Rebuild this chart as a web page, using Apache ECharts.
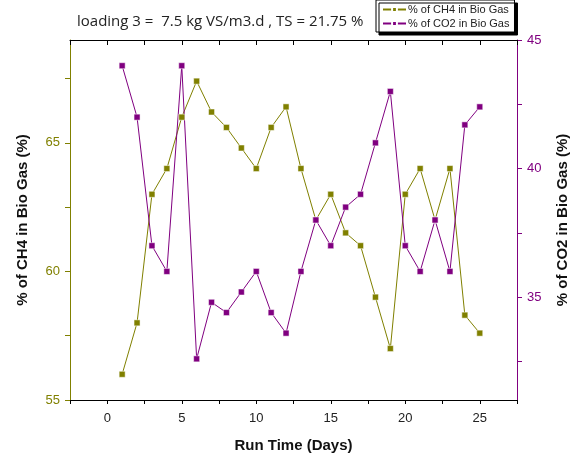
<!DOCTYPE html>
<html>
<head>
<meta charset="utf-8">
<script src="https://cdn.jsdelivr.net/npm/echarts@6/dist/echarts.min.js"></script>
<style>
  html, body { margin: 0; padding: 0; background: #fff; }
  #main { width: 578px; height: 458px; }
</style>
</head>
<body>
<div id="main"></div>
<script>
// run time in days
var days = [1, 2, 3, 4, 5, 6, 7, 8, 9, 10, 11, 12, 13, 14, 15, 16, 17, 18, 19, 20, 21, 22, 23, 24, 25];
// % of CH4 (left axis)
var ch4 = [56.0, 58.0, 63.0, 64.0, 66.0, 67.4, 66.2, 65.6, 64.8, 64.0, 65.6, 66.4, 64.0,
           62.0, 63.0, 61.5, 61.0, 59.0, 57.0, 63.0, 64.0, 62.0, 64.0, 58.3, 57.6];
// % of CO2 (right axis)
var co2 = [44.0, 42.0, 37.0, 36.0, 44.0, 32.6, 34.8, 34.4, 35.2, 36.0, 34.4, 33.6, 36.0,
           38.0, 37.0, 38.5, 39.0, 41.0, 43.0, 37.0, 36.0, 38.0, 36.0, 41.7, 42.4];

var xTicks = [-2.5, 0, 2.5, 5, 7.5, 10, 12.5, 15, 17.5, 20, 22.5, 25, 27.5];
var xLabels = [0, 5, 10, 15, 20, 25];
var leftTicks = [55, 57.5, 60, 62.5, 65, 67.5];
var leftLabels = [55, 60, 65];
var rightTicks = [32.5, 35, 37.5, 40, 42.5, 45];
var rightLabels = [35, 40, 45];

var OLIVE = '#808000';
var PURPLE = '#800080';
var FONT = '"Liberation Sans", Arial, sans-serif';

var myChart = echarts.init(document.getElementById('main'));

var option = {
    backgroundColor: '#fff',
    animation: false,
    title: {
        text: 'loading 3 =  7.5 kg VS/m3.d , TS = 21.75 %',
        left: 72,
        top: 9,
        textStyle: {
            fontFamily: '"Open Sans", sans-serif',
            fontSize: 15,
            fontWeight: 'normal',
            color: '#222'
        }
    },
    legend: {
        orient: 'vertical',
        left: 376,
        top: 0,
        itemWidth: 23,
        itemHeight: 6,
        itemGap: 3,
        padding: [4, 5, 3, 6],
        backgroundColor: '#fff',
        borderColor: '#000',
        borderWidth: 1,
        shadowColor: '#000',
        shadowOffsetX: 3,
        shadowOffsetY: 3,
        shadowBlur: 0,
        textStyle: { fontFamily: FONT, fontSize: 11, color: '#222', padding: [0, 0, 0, -3] },
        data: ['% of CH4 in Bio Gas', '% of CO2 in Bio Gas']
    },
    grid: { left: 70, right: 61, top: 40, bottom: 58 },
    xAxis: [
        {
            type: 'value',
            min: -2.5,
            max: 27.5,
            position: 'bottom',
            name: 'Run Time (Days)',
            nameLocation: 'middle',
            nameGap: 38,
            nameTextStyle: { fontFamily: FONT, fontSize: 15, fontWeight: 'bold', color: '#111' },
            axisLine: { onZero: false, lineStyle: { color: '#000', width: 1 } },
            axisTick: { length: 4, lineStyle: { color: '#000' }, customValues: xTicks },
            axisLabel: { margin: 12, fontFamily: FONT, fontSize: 13, color: '#222', customValues: xLabels },
            splitLine: { show: false }
        },
        {
            type: 'value',
            min: -2.5,
            max: 27.5,
            position: 'top',
            axisLine: { onZero: false, lineStyle: { color: '#000', width: 1 } },
            axisTick: { inside: true, length: 5, lineStyle: { color: '#000' }, customValues: xTicks },
            axisLabel: { show: false },
            splitLine: { show: false }
        }
    ],
    yAxis: [
        {
            type: 'value',
            min: 55,
            max: 69,
            position: 'left',
            name: '% of CH4 in Bio Gas (%)',
            nameLocation: 'middle',
            nameGap: 40,
            nameTextStyle: { fontFamily: FONT, fontSize: 15, fontWeight: 'bold', color: '#111' },
            axisLine: { show: true, onZero: false, lineStyle: { color: OLIVE, width: 1 } },
            axisTick: { show: true, length: 5, lineStyle: { color: OLIVE }, customValues: leftTicks },
            axisLabel: { margin: 10, fontFamily: FONT, fontSize: 13, color: OLIVE, customValues: leftLabels },
            splitLine: { show: false }
        },
        {
            type: 'value',
            min: 31,
            max: 45,
            position: 'right',
            name: '% of CO2 in Bio Gas (%)',
            nameLocation: 'middle',
            nameGap: 38,
            nameRotate: 90,
            nameTextStyle: { fontFamily: FONT, fontSize: 15, fontWeight: 'bold', color: '#111' },
            axisLine: { show: true, onZero: false, lineStyle: { color: PURPLE, width: 1 } },
            axisTick: { show: true, length: 5, lineStyle: { color: PURPLE }, customValues: rightTicks },
            axisLabel: { margin: 10, fontFamily: FONT, fontSize: 13, color: PURPLE, customValues: rightLabels },
            splitLine: { show: false }
        }
    ],
    series: [
        {
            name: '% of CH4 in Bio Gas',
            type: 'line',
            xAxisIndex: 0,
            yAxisIndex: 0,
            data: days.map(function (d, i) { return [d, ch4[i]]; }),
            symbol: 'rect',
            symbolSize: 6,
            lineStyle: { color: OLIVE, width: 1 },
            itemStyle: { color: OLIVE, borderColor: '#fff', borderWidth: 0.5 }
        },
        {
            name: '% of CO2 in Bio Gas',
            type: 'line',
            xAxisIndex: 0,
            yAxisIndex: 1,
            data: days.map(function (d, i) { return [d, co2[i]]; }),
            symbol: 'rect',
            symbolSize: 6,
            lineStyle: { color: PURPLE, width: 1 },
            itemStyle: { color: PURPLE, borderColor: '#fff', borderWidth: 0.5 }
        }
    ]
};
myChart.setOption(option);
</script>
</body>
</html>
